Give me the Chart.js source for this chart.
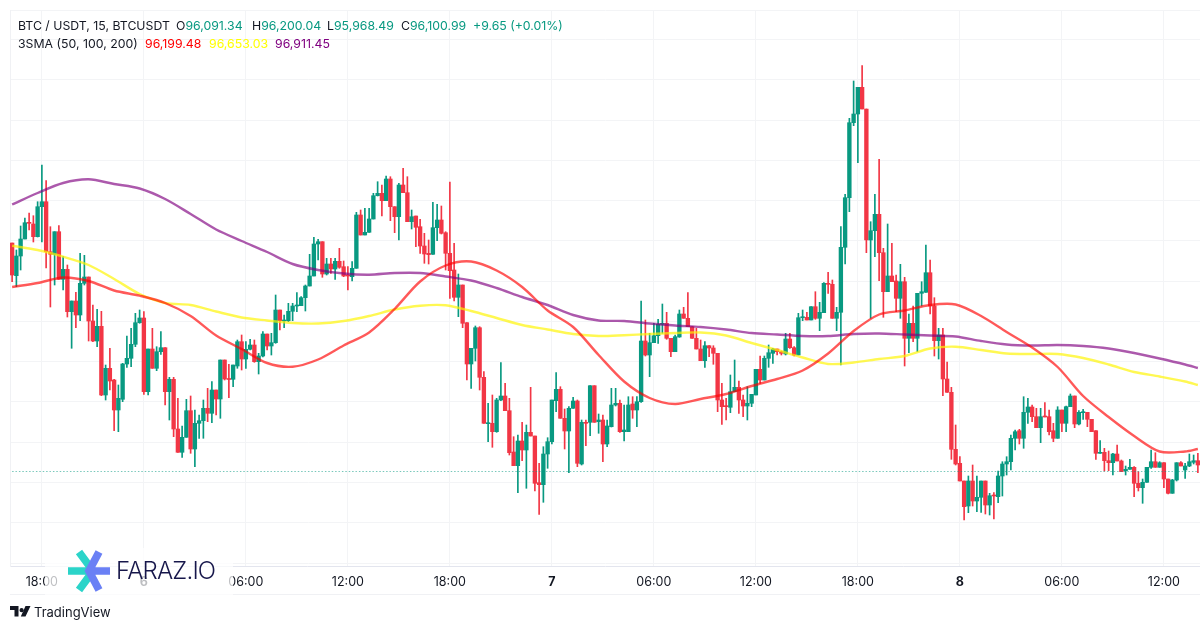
<!DOCTYPE html>
<html>
<head>
<meta charset="utf-8">
<title>BTC / USDT</title>
<script src="https://cdn.jsdelivr.net/npm/chart.js@4/dist/chart.umd.js"></script>
<style>
  html, body { margin: 0; padding: 0; background: #fff; }
  #wrap { position: relative; width: 1200px; height: 630px; overflow: hidden; font-family: Inter, "Noto Sans", sans-serif; }
  canvas { position: absolute; left: 0; top: 0; }
  .t { position: absolute; font-size: 12.3px; line-height: 16px; white-space: nowrap; color: #131722; }
  .up { color: #089981; }
  #frameBottom { position: absolute; left: 10px; top: 594px; width: 1190px; height: 1px; background: #f0f1f4; }
  #logoBack { position: absolute; left: 45px; top: 548px; width: 188px; height: 50px; background: rgba(255,255,255,.72); }
  #faraz { position: absolute; left: 116px; top: 555px; font-size: 24px; line-height: 32px; font-weight: 300; color: #16164a; letter-spacing: -0.8px; }
  #tv { position: absolute; left: 34px; top: 604px; font-size: 13px; line-height: 17px; color: #131722; }
  svg { position: absolute; }
</style>
</head>
<body>
<div id="wrap">
  <canvas id="chart" width="1200" height="630"></canvas>
  <div id="frameBottom"></div>
  <div id="logoBack"></div>
  <svg style="left:66px;top:548px" width="46" height="46" viewBox="0 0 46 46">
    <g fill="none" stroke-width="7.7">
      <path d="M2 23H27M13 4L27 23L13 42" stroke="#2bd4c9"/>
      <path d="M44 23H27M33 4L23 23L33 42" stroke="#6a80f5"/>
    </g>
  </svg>
  <div id="faraz">FARAZ.IO</div>
  <svg style="left:10px;top:606px" width="22" height="11" viewBox="0 0 22 11">
    <path d="M0 0H8.5V10.5H4.5V4H0Z M9.5 4.2a2.1 2.1 0 1 0 4.2 0a2.1 2.1 0 1 0 -4.2 0Z M15.5 0H20.5L15.5 10.5H10.8Z" fill="#131722"/>
  </svg>
  <div id="tv">TradingView</div>

  <div class="t" style="left:18px;top:18px">BTC / USDT, 15, BTCUSDT</div>
  <div class="t" style="left:176px;top:18px">O<span class="up">96,091.34</span></div>
  <div class="t" style="left:252px;top:18px">H<span class="up">96,200.04</span></div>
  <div class="t" style="left:327px;top:18px">L<span class="up">95,968.49</span></div>
  <div class="t" style="left:401px;top:18px">C<span class="up">96,100.99</span></div>
  <div class="t up" style="left:473px;top:18px">+9.65 (+0.01%)</div>
  <div class="t" style="left:18px;top:36px">3SMA (50, 100, 200)</div>
  <div class="t" style="left:145px;top:36px;color:#ff0000">96,199.48</div>
  <div class="t" style="left:209px;top:36px;color:#ffff00">96,653.03</div>
  <div class="t" style="left:275px;top:36px;color:#800080">96,911.45</div>
</div>

<script>
const upColor = '#089981';
const downColor = '#f23645';
const lastClose = 96105;

const tickIndex = [7, 31, 55, 79, 103, 127, 151, 175, 199, 223, 247, 271];
const tickLabels = ['18:00', '6', '06:00', '12:00', '18:00', '7', '06:00', '12:00', '18:00', '8', '06:00', '12:00'];
const gridPrices = [95190, 95594, 95997, 96400, 96802, 97205, 97607, 98010, 98412, 98815, 99217, 99620, 100022, 100425, 100720];

// 15 minute candles
const opens = [
  98390,98063,98260,98430,98593,98580,98453,98753,98803,98303,
  98277,98503,98027,98127,97703,97810,97670,97987,98050,97610,
  97410,97557,96870,97137,97020,96720,96827,97180,97237,97377,
  97593,97640,96903,97330,97137,97303,97343,96903,97027,96530,
  96297,96447,96713,96330,96587,96613,96737,96687,96920,96830,
  97220,97035,97027,97160,97403,97230,97327,97370,97203,97260,
  97480,97360,97393,97720,97610,97613,97707,97760,97763,97843,
  97960,98060,98380,98403,98080,98180,98130,98207,98153,98070,
  98053,98137,98670,98470,98497,98630,98863,98887,98813,99030,
  98753,98653,98970,98893,98603,98660,98553,98360,98287,98277,
  98543,98620,98493,98287,98120,97847,97970,97593,97180,97337,
  97543,97047,96583,96587,96503,96820,96860,96713,96300,96163,
  96410,96320,96497,96460,95993,95973,96280,96403,96813,96927,
  96637,96510,96737,96810,96180,96597,96597,96963,96603,96620,
  96380,96553,96770,96787,96503,96503,96780,96720,96803,97410,
  97270,97393,97463,97577,97587,97437,97303,97450,97680,97637,
  97553,97437,97330,97213,97363,97340,97287,96820,96760,96747,
  96903,96947,96820,96760,96787,96870,97127,97020,97237,97287,
  97330,97303,97280,97430,97343,97270,97643,97647,97620,97753,
  97637,97693,97987,97977,97637,97697,98347,98843,99593,99680,
  99947,99730,98420,98513,98677,98293,97903,98060,98010,97837,
  98003,97437,97587,97437,97887,97897,98093,97760,97413,97470,
  97030,96897,96327,96187,96010,95760,96010,95810,95847,96010,
  95770,95870,95853,96060,96180,96203,96437,96513,96437,96697,
  96750,96653,96543,96660,96653,96513,96437,96720,96587,96753,
  96860,96580,96693,96697,96627,96513,96287,96297,96213,96193,
  96280,96210,96113,96127,96147,95987,95943,95997,96147,96203,
  96147,96193,96030,95887,96020,96193,96120,96160,96197,96213
];
const highs = [
  98390,98320,98560,98640,98690,98663,98803,99170,99013,98553,
  98503,98563,98253,98170,97810,97897,98287,98267,98050,97770,
  97727,97707,97170,97337,97027,96970,97187,97460,97537,97687,
  97720,97703,97330,97537,97353,97503,97343,97047,97047,96837,
  96560,96827,96860,96720,96670,96820,96937,97003,96920,97220,
  97220,97177,97170,97420,97470,97403,97427,97420,97287,97503,
  97480,97487,97870,97720,97670,97787,97787,97893,97853,97970,
  98277,98447,98427,98403,98237,98237,98237,98337,98210,98153,
  98203,98697,98720,98737,98737,98887,99003,98970,99060,99053,
  98753,98987,99137,99053,98720,98660,98627,98487,98420,98797,
  98777,98760,98503,99000,98387,98080,97970,97593,97337,97560,
  97553,97103,96787,96870,96837,97193,96987,96837,96453,96470,
  96597,96570,96947,96460,96187,96353,96443,96820,97093,96953,
  96730,96753,96847,96820,96620,96620,96963,96963,96680,96670,
  96620,96937,96937,96820,96770,96853,96853,96853,97810,97620,
  97487,97587,97627,97780,97697,97437,97470,97720,97747,97893,
  97553,97537,97420,97403,97363,97363,97287,96987,96837,97070,
  97220,97010,96870,96953,96877,97127,97260,97260,97370,97337,
  97330,97310,97487,97487,97353,97687,97720,97697,97753,97903,
  97797,97993,98097,98020,97747,98553,98877,99637,100010,99947,
  100163,99730,98603,98877,99227,98337,98580,98387,98070,98177,
  98047,97680,97760,97887,98003,98370,98220,97843,97537,97537,
  97200,96947,96570,96253,96010,96060,96170,96060,96010,96010,
  95887,95893,96110,96203,96253,96470,96520,96527,96853,96837,
  96770,96737,96737,96793,96720,96587,96753,96720,96760,96880,
  96860,96713,96727,96697,96627,96513,96413,96337,96310,96287,
  96370,96220,96160,96227,96153,96103,96030,96147,96320,96293,
  96203,96193,96030,96027,96193,96203,96187,96280,96270,96287
];
const lows = [
  98003,97953,98120,98430,98520,98400,98450,98400,98140,97750,
  97970,98027,97920,97650,97337,97543,97613,97970,97410,97403,
  97353,96863,96820,96920,96513,96503,96803,97147,97153,97353,
  97587,96877,96870,97137,97113,97277,96770,96620,96453,96297,
  96247,96447,96287,96153,96437,96437,96603,96593,96670,96637,
  97020,96843,96953,97137,97120,97137,97320,97197,97080,97250,
  97320,97270,97387,97520,97543,97603,97613,97703,97763,97710,
  97960,98060,98220,98047,98070,98087,98027,98137,98053,97920,
  98010,98137,98470,98470,98497,98630,98860,98660,98813,98613,
  98493,98420,98893,98603,98530,98353,98287,98187,98180,98277,
  98413,98480,98120,97837,97810,97653,97543,97020,96937,97210,
  96920,96587,96403,96347,96497,96813,96713,96270,96163,95893,
  96213,95937,96460,95910,95677,95797,96137,96380,96703,96637,
  96330,96093,96737,96153,96170,96363,96463,96597,96487,96203,
  96353,96550,96760,96497,96410,96503,96637,96553,96797,97260,
  97053,97393,97387,97487,97427,97253,97303,97447,97637,97553,
  97437,97330,97213,97147,97253,97177,96703,96577,96620,96693,
  96903,96687,96653,96620,96753,96870,96987,97020,97147,97187,
  97270,97270,97270,97337,97260,97270,97613,97620,97620,97627,
  97513,97693,97887,97637,97513,97170,98180,98703,99563,99193,
  99730,98293,97637,98253,98013,97647,97903,98003,97703,97637,
  97160,97293,97403,97303,97760,97897,97680,97260,97230,96863,
  96897,96227,96170,96010,95620,95693,95760,95703,95697,95680,
  95670,95630,95793,95860,96070,96120,96320,96380,96337,96587,
  96603,96543,96393,96650,96470,96403,96437,96503,96503,96753,
  96543,96570,96627,96553,96503,96227,96287,96110,96113,96070,
  96210,96103,96070,96127,95853,95910,95787,95997,96137,96147,
  96147,95943,95880,95887,96010,96160,96037,96153,96180,96093
];
const closes = [
  98070,98260,98430,98593,98587,98453,98753,98803,98303,98277,
  98503,98027,98127,97703,97810,97670,97987,98050,97610,97410,
  97557,96870,97137,97010,96720,96837,97180,97237,97377,97593,
  97640,96903,97330,97137,97303,97343,96903,97027,96530,96297,
  96447,96713,96330,96587,96613,96737,96687,96920,96830,97220,
  97030,97025,97170,97403,97230,97327,97370,97203,97260,97480,
  97360,97393,97720,97613,97620,97707,97760,97770,97843,97960,
  98060,98380,98403,98080,98180,98130,98207,98147,98060,98060,
  98137,98670,98470,98497,98630,98863,98887,98813,99030,98753,
  98653,98970,98893,98603,98653,98547,98360,98280,98273,98543,
  98620,98487,98287,98113,97847,97970,97587,97180,97337,97543,
  97047,96587,96590,96503,96820,96860,96713,96293,96163,96410,
  96320,96497,96460,95987,95973,96280,96403,96820,96927,96637,
  96510,96737,96810,96187,96597,96587,96963,96597,96620,96380,
  96560,96770,96787,96503,96520,96770,96720,96803,97410,97270,
  97393,97463,97577,97587,97437,97303,97453,97680,97637,97553,
  97437,97330,97213,97363,97340,97287,96820,96753,96753,96903,
  96947,96820,96760,96787,96877,97127,97020,97237,97293,97330,
  97303,97287,97430,97343,97270,97643,97647,97620,97753,97637,
  97697,97987,97977,97637,97697,98347,98843,99593,99680,99947,
  99730,98420,98513,98677,98293,97903,98060,98003,97837,98003,
  97437,97587,97437,97887,97903,98093,97760,97413,97470,97030,
  96897,96327,96180,96010,95753,96010,95810,95847,96010,95770,
  95863,95860,96060,96180,96203,96437,96503,96437,96697,96750,
  96653,96543,96653,96650,96503,96437,96720,96587,96753,96860,
  96580,96697,96703,96627,96503,96287,96297,96213,96193,96280,
  96210,96103,96127,96147,95987,95943,95997,96147,96203,96147,
  96193,96030,95887,96020,96193,96160,96160,96203,96213,96170
];

// moving averages, read every 6th candle plus the last one
const sma50 = [
  97950,97990,98045,98010,97915,97863,97790,97660,97465,97330,97190,97153,
  97225,97365,97495,97730,98005,98165,98205,98115,97950,97715,97550,97270,
  97005,96840,96780,96830,96880,96960,97030,97115,97285,97510,97675,97715,
  97770,97775,97660,97500,97345,97150,96860,96650,96460,96305,96305,96330
];
const sma100 = [
  98363,98320,98253,98170,98030,97880,97790,97770,97705,97645,97615,97590,
  97585,97610,97660,97725,97763,97767,97710,97640,97570,97525,97480,97460,
  97468,97480,97490,97495,97465,97390,97320,97245,97180,97195,97230,97260,
  97335,97353,97320,97285,97280,97280,97240,97175,97100,97055,97005,96970
];
const sma200 = [
  98775,98890,98990,99027,98980,98935,98830,98680,98525,98410,98300,98180,
  98120,98085,98073,98090,98090,98055,98015,97940,97850,97770,97670,97615,
  97610,97585,97565,97550,97525,97490,97475,97460,97460,97480,97485,97475,
  97465,97455,97410,97375,97365,97370,97360,97335,97290,97235,97175,97140
];

// one label per candle, starts at 16:15 on the 5th
const categories = opens.map((_, i) => {
  const mins = 16 * 60 + 15 + i * 15;
  const day = 5 + Math.floor(mins / 1440);
  const m = mins % 1440;
  return day + ' ' + String(Math.floor(m / 60)).padStart(2, '0') + ':' + String(m % 60).padStart(2, '0');
});

const candleColors = opens.map((o, i) => closes[i] >= o ? upColor : downColor);
const smaPoints = vals => vals.map((y, k) => ({ x: categories[Math.min(k * 6, categories.length - 1)], y }));
const smaLine = (vals, color) => ({
  type: 'line',
  data: smaPoints(vals),
  borderColor: color,
  borderWidth: 2.4,
  pointRadius: 0,
  tension: 0.3,
  order: 0,
});

new Chart(document.getElementById('chart'), {
  type: 'bar',
  data: {
    labels: categories,
    datasets: [
      smaLine(sma50, 'rgba(255,0,0,.65)'),
      smaLine(sma100, 'rgba(255,245,0,.68)'),
      smaLine(sma200, 'rgba(128,0,128,.65)'),
      {
        type: 'line',
        data: categories.map(() => lastClose),
        borderColor: 'rgba(8,153,129,.55)',
        borderWidth: 1,
        borderDash: [1.5, 1.9],
        pointRadius: 0,
        order: 1,
      },
      {
        data: opens.map((o, i) => [o, closes[i]]),
        backgroundColor: candleColors,
        barThickness: 3.7,
        minBarLength: 1,
        grouped: false,
        order: 2,
      },
      {
        data: lows.map((l, i) => [l, highs[i]]),
        backgroundColor: candleColors,
        barThickness: 1,
        grouped: false,
        order: 3,
      },
    ],
  },
  options: {
    responsive: false,
    animation: false,
    devicePixelRatio: 1,
    layout: { padding: { left: 10, top: 10, right: 0, bottom: 0 } },
    plugins: { legend: { display: false }, tooltip: { enabled: false } },
    scales: {
      x: {
        offset: true,
        grid: { offset: false, color: '#f3f4f6', drawTicks: false },
        border: { color: '#e3e5ee' },
        afterBuildTicks: axis => { axis.ticks = tickIndex.map(value => ({ value })); },
        afterFit: axis => { axis.height = 64; },
        ticks: {
          autoSkip: false,
          maxRotation: 0,
          padding: 9,
          color: '#131722',
          font: ctx => ({ family: 'Inter', size: 12.5, weight: tickLabels[ctx.index] && tickLabels[ctx.index].length === 1 ? 'bold' : 'normal' }),
          callback: (value, i) => tickLabels[i],
        },
      },
      y: {
        min: 95160,
        max: 100720,
        grid: { color: '#f3f4f6', drawTicks: false },
        border: { color: '#f0f1f4' },
        afterBuildTicks: axis => { axis.ticks = gridPrices.map(value => ({ value })); },
        afterFit: axis => { axis.width = 0; },
        ticks: { display: false },
      },
    },
  },
});
</script>
</body>
</html>
